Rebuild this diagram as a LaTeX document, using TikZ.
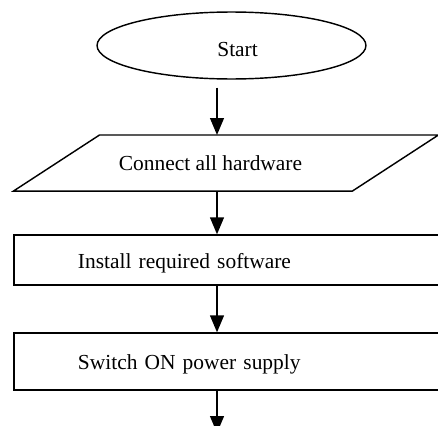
\documentclass[tikz,border=0pt]{standalone}
\usepackage{fontspec}
\setmainfont{Liberation Serif}
\usepackage{tikz}
\usetikzlibrary{arrows.meta}
\usetikzlibrary{shapes.geometric}
\tikzset{arr/.style = {-{Triangle[length=9.5pt, width=7.8pt]}, line width=0.8pt}}
\tikzset{term/.style = {draw, ellipse, line width=0.8pt, inner sep=0,
                        minimum width=150.6pt, minimum height=37.5pt}}
\tikzset{io/.style = {rectangle, inner sep=0, outer sep=0,
                      minimum width=189.8pt, minimum height=31.4pt}}
\tikzset{proc/.style = {draw, rectangle, line width=0.8pt, minimum width=255.4pt,
                        text width=183.7pt, align=left,
                        text height=9.5pt, text depth=0pt}}
\tikzset{txt/.style = {font=\fontsize{12}{14}\selectfont}}

\begin{document}
\begin{tikzpicture}[x=0.56pt, y=-0.56pt, txt]
    \useasboundingbox (0, 0) rectangle (438, 425);
    \clip (0, 0) rectangle (438, 425);
    \coordinate (col) at (217, 0);
    \coordinate (nxt) at (217, 433);
    \node [term, label={[txt, xshift=3.4pt, yshift=-2.4pt]center:Start}]
      (start) at (231.5, 45.5) {};
    \node [io, label={[txt, xshift=-8.7pt, yshift=-0.2pt]center:Connect all hardware}]
      (hw) at (226, 163) {};
    \draw [line width=0.8pt, line join=miter] ([xshift=24.1pt]hw.north west)
      -- ([xshift=24.1pt]hw.north east) -- ([xshift=-24.1pt]hw.south east)
      -- ([xshift=-24.1pt]hw.south west) -- cycle;
    \node [proc, minimum height=28pt] (soft) at (242, 260) {Install required software};
    \node [proc, minimum height=31.9pt] (power) at (242, 361.5) {Switch ON power supply};
    \draw [arr, shorten <=4.5pt] (col |- start.south) -- (col |- hw.north);
    \draw [arr] (col |- hw.south) -- (col |- soft.north);
    \draw [arr] (col |- soft.south) -- (col |- power.north);
    \draw [arr] (col |- power.south) -- (nxt);
  \end{tikzpicture}
\end{document}
